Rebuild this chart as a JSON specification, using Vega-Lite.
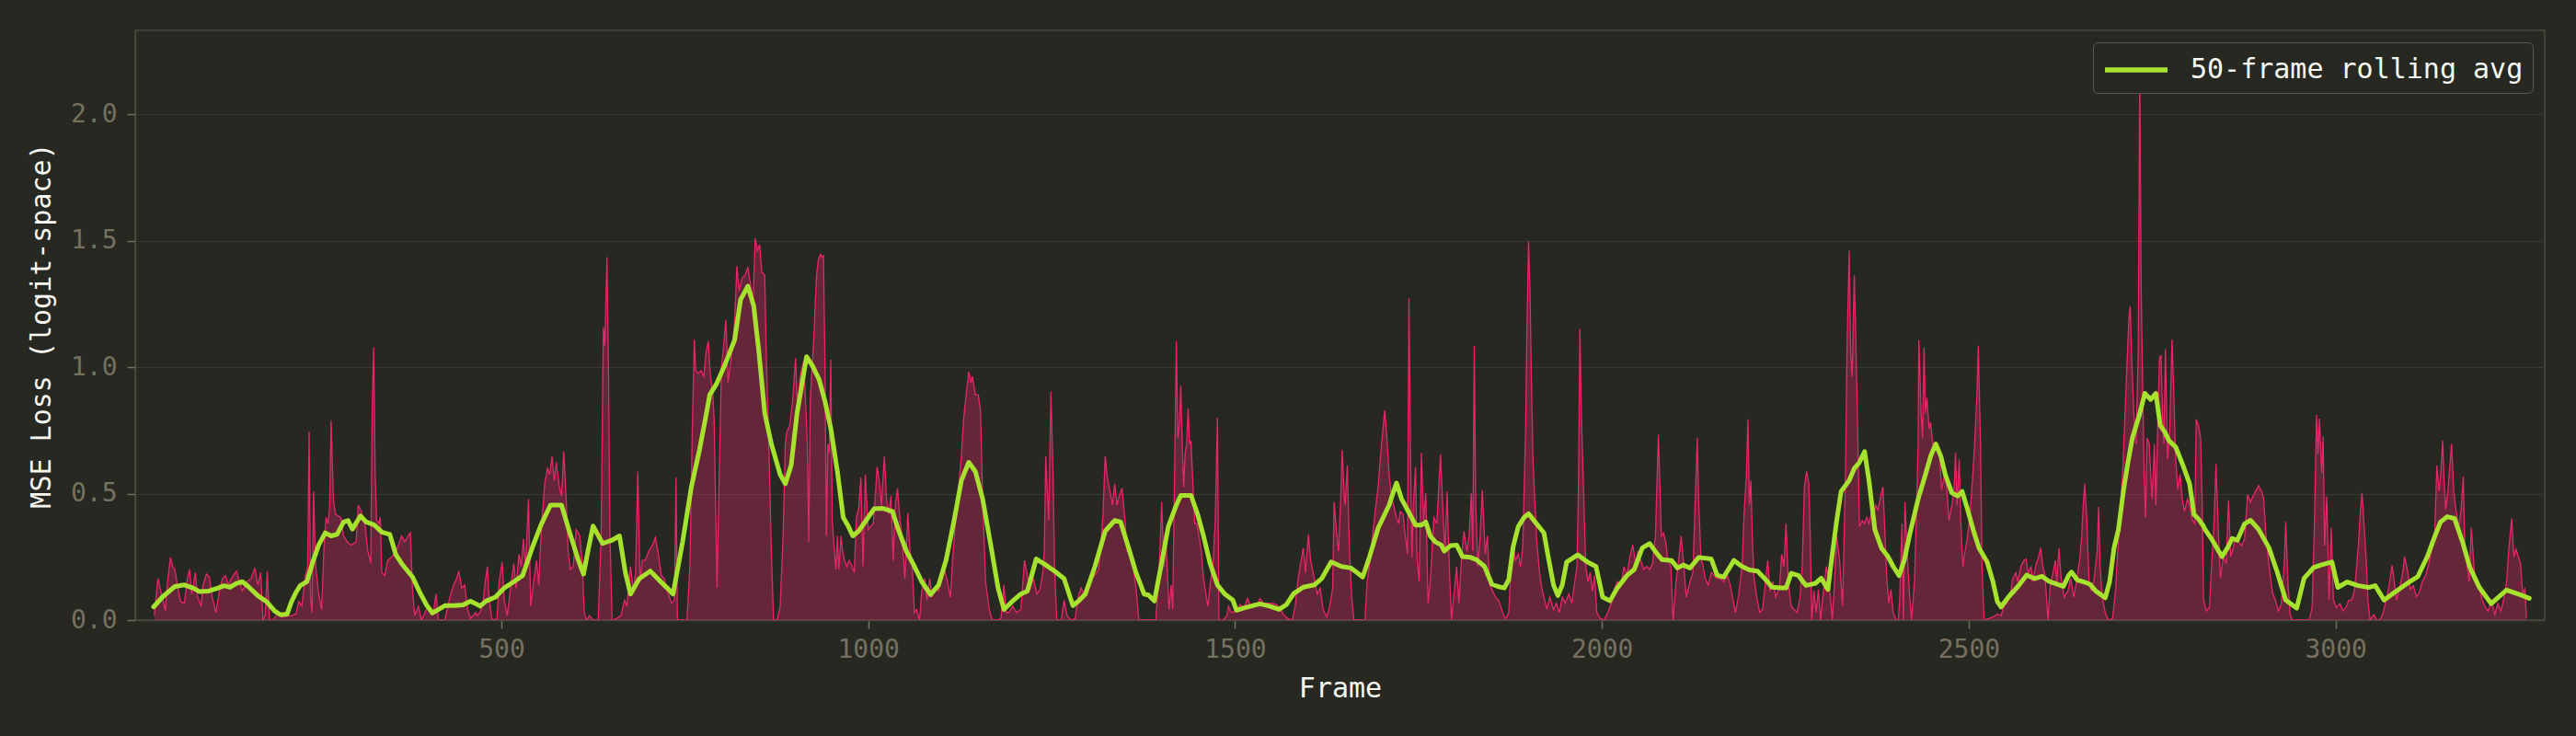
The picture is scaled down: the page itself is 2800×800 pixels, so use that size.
{
"$schema":"https://vega.github.io/schema/vega-lite/v6.json",
"width":2619,"height":641,
"autosize":{"type":"none"},
"padding":{"left":147,"top":33,"right":34,"bottom":126},
"background":"#272822",
"config":{
 "view":{"stroke":"#49483E","strokeWidth":1.5,"fill":"#272822"},
 "font":"DejaVu Sans Mono",
 "axis":{"labelFont":"DejaVu Sans Mono","titleFont":"DejaVu Sans Mono","labelColor":"#75715E","labelFontSize":28,"titleColor":"#F8F8F2","titleFontSize":30,"titleFontWeight":"normal","tickColor":"#75715E","tickSize":9,"tickWidth":1.5,"domainColor":"#49483E","domainWidth":1.5,"gridColor":"#3B3A32","gridWidth":1.2}
},
"datasets":{
"raw":[
{"frame":27,"loss":0.02},{"frame":32,"loss":0.164},{"frame":34,"loss":0.139},{"frame":38,"loss":0.091},{"frame":42,"loss":0.036},{"frame":45,"loss":0.152},{"frame":49,"loss":0.248},{"frame":52,"loss":0.212},{"frame":55,"loss":0.2},{"frame":59,"loss":0.127},{"frame":63,"loss":0.073},{"frame":68,"loss":0.067},{"frame":72,"loss":0.164},{"frame":75,"loss":0.2},{"frame":78,"loss":0.103},{"frame":83,"loss":0.188},{"frame":86,"loss":0.091},{"frame":91,"loss":0.055},{"frame":93,"loss":0.133},{"frame":98,"loss":0.182},{"frame":102,"loss":0.17},{"frame":106,"loss":0.091},{"frame":111,"loss":0.03},{"frame":116,"loss":0.121},{"frame":120,"loss":0.164},{"frame":124,"loss":0.176},{"frame":128,"loss":0.139},{"frame":132,"loss":0.164},{"frame":139,"loss":0.194},{"frame":143,"loss":0.152},{"frame":147,"loss":0.115},{"frame":153,"loss":0.152},{"frame":159,"loss":0.164},{"frame":164,"loss":0.206},{"frame":168,"loss":0.139},{"frame":172,"loss":0.188},{"frame":175,"loss":0.0},{"frame":178,"loss":0.018},{"frame":181,"loss":0.194},{"frame":184,"loss":0.0},{"frame":189,"loss":0.0},{"frame":193,"loss":0.018},{"frame":197,"loss":0.03},{"frame":201,"loss":0.012},{"frame":208,"loss":0.016},{"frame":214,"loss":0.018},{"frame":220,"loss":0.024},{"frame":224,"loss":0.073},{"frame":228,"loss":0.055},{"frame":233,"loss":0.176},{"frame":236,"loss":0.212},{"frame":238,"loss":0.745},{"frame":240,"loss":0.091},{"frame":242,"loss":0.03},{"frame":244,"loss":0.509},{"frame":247,"loss":0.212},{"frame":251,"loss":0.103},{"frame":255,"loss":0.042},{"frame":258,"loss":0.273},{"frame":261,"loss":0.406},{"frame":264,"loss":0.382},{"frame":266,"loss":0.455},{"frame":268,"loss":0.79},{"frame":271,"loss":0.479},{"frame":274,"loss":0.418},{"frame":281,"loss":0.406},{"frame":285,"loss":0.333},{"frame":290,"loss":0.309},{"frame":295,"loss":0.297},{"frame":302,"loss":0.309},{"frame":305,"loss":0.455},{"frame":309,"loss":0.43},{"frame":314,"loss":0.382},{"frame":318,"loss":0.273},{"frame":322,"loss":0.224},{"frame":324,"loss":0.85},{"frame":326,"loss":1.079},{"frame":328,"loss":0.576},{"frame":330,"loss":0.394},{"frame":333,"loss":0.382},{"frame":335,"loss":0.406},{"frame":337,"loss":0.188},{"frame":341,"loss":0.176},{"frame":345,"loss":0.236},{"frame":350,"loss":0.248},{"frame":354,"loss":0.261},{"frame":360,"loss":0.297},{"frame":364,"loss":0.333},{"frame":368,"loss":0.309},{"frame":373,"loss":0.333},{"frame":376,"loss":0.345},{"frame":379,"loss":0.115},{"frame":382,"loss":0.018},{"frame":387,"loss":0.055},{"frame":391,"loss":0.0},{"frame":396,"loss":0.03},{"frame":400,"loss":0.055},{"frame":404,"loss":0.024},{"frame":408,"loss":0.042},{"frame":411,"loss":0.103},{"frame":414,"loss":0.0},{"frame":423,"loss":0.0},{"frame":427,"loss":0.055},{"frame":431,"loss":0.103},{"frame":435,"loss":0.139},{"frame":439,"loss":0.164},{"frame":442,"loss":0.194},{"frame":446,"loss":0.127},{"frame":450,"loss":0.139},{"frame":454,"loss":0.042},{"frame":458,"loss":0.006},{"frame":465,"loss":0.03},
{"frame":467,"loss":0.018},{"frame":471,"loss":0.03},{"frame":475,"loss":0.067},{"frame":478,"loss":0.152},{"frame":481,"loss":0.212},{"frame":483,"loss":0.091},{"frame":487,"loss":0.006},{"frame":490,"loss":0.0},{"frame":494,"loss":0.006},{"frame":497,"loss":0.152},{"frame":501,"loss":0.23},{"frame":504,"loss":0.079},{"frame":508,"loss":0.018},{"frame":512,"loss":0.115},{"frame":517,"loss":0.224},{"frame":520,"loss":0.127},{"frame":524,"loss":0.261},{"frame":527,"loss":0.212},{"frame":530,"loss":0.321},{"frame":533,"loss":0.212},{"frame":537,"loss":0.479},{"frame":540,"loss":0.055},{"frame":544,"loss":0.152},{"frame":548,"loss":0.236},{"frame":551,"loss":0.139},{"frame":554,"loss":0.333},{"frame":559,"loss":0.539},{"frame":563,"loss":0.6},{"frame":566,"loss":0.576},{"frame":569,"loss":0.648},{"frame":572,"loss":0.552},{"frame":575,"loss":0.624},{"frame":579,"loss":0.527},{"frame":582,"loss":0.491},{"frame":585,"loss":0.667},{"frame":588,"loss":0.503},{"frame":591,"loss":0.273},{"frame":594,"loss":0.2},{"frame":598,"loss":0.212},{"frame":602,"loss":0.358},{"frame":607,"loss":0.333},{"frame":610,"loss":0.236},{"frame":613,"loss":0.03},{"frame":616,"loss":0.0},{"frame":620,"loss":0.018},{"frame":625,"loss":0.0},{"frame":632,"loss":0.0},{"frame":636,"loss":0.333},{"frame":639,"loss":1.158},{"frame":641,"loss":1.085},{"frame":644,"loss":1.436},{"frame":646,"loss":1.0},{"frame":648,"loss":0.333},{"frame":651,"loss":0.0},{"frame":657,"loss":0.006},{"frame":663,"loss":0.018},{"frame":668,"loss":0.079},{"frame":671,"loss":0.055},{"frame":676,"loss":0.212},{"frame":680,"loss":0.115},{"frame":683,"loss":0.188},{"frame":686,"loss":0.588},{"frame":689,"loss":0.152},{"frame":692,"loss":0.236},{"frame":696,"loss":0.236},{"frame":701,"loss":0.273},{"frame":706,"loss":0.297},{"frame":710,"loss":0.327},{"frame":714,"loss":0.261},{"frame":718,"loss":0.176},{"frame":722,"loss":0.164},{"frame":726,"loss":0.115},{"frame":732,"loss":0.067},{"frame":736,"loss":0.079},{"frame":738,"loss":0.564},{"frame":740,"loss":0.0},{"frame":747,"loss":0.0},{"frame":753,"loss":0.0},{"frame":757,"loss":0.212},{"frame":760,"loss":0.721},{"frame":763,"loss":1.109},{"frame":765,"loss":0.988},{"frame":768,"loss":0.976},{"frame":772,"loss":0.988},{"frame":776,"loss":0.964},{"frame":779,"loss":1.061},{"frame":782,"loss":1.103},{"frame":785,"loss":0.964},{"frame":788,"loss":0.903},{"frame":790,"loss":0.794},{"frame":794,"loss":0.127},{"frame":797,"loss":0.576},{"frame":800,"loss":1.0},{"frame":803,"loss":1.085},{"frame":806,"loss":1.188},{"frame":809,"loss":0.939},{"frame":813,"loss":1.036},{"frame":818,"loss":1.182},{"frame":821,"loss":1.4},{"frame":824,"loss":1.303},{"frame":828,"loss":1.352},{"frame":832,"loss":1.364},{"frame":836,"loss":1.394},{"frame":841,"loss":1.303},{"frame":843,"loss":1.255},{"frame":846,"loss":1.509},{"frame":849,"loss":1.461},{"frame":852,"loss":1.485},{"frame":855,"loss":1.376},{"frame":859,"loss":1.364},{"frame":861,"loss":1.061},{"frame":864,"loss":0.758},{"frame":868,"loss":0.273},{"frame":871,"loss":0.0},{"frame":876,"loss":0.0},{"frame":880,"loss":0.055},{"frame":884,"loss":0.333},{"frame":887,"loss":0.697},{"frame":889,"loss":0.745},{"frame":893,"loss":0.77},{"frame":897,"loss":0.867},{"frame":901,"loss":1.036},{"frame":904,"loss":0.818},{"frame":907,"loss":0.964},{"frame":912,"loss":1.024},{"frame":915,"loss":0.842},{"frame":917,"loss":0.697},{"frame":919,"loss":0.309},{"frame":921,"loss":0.867},{"frame":924,"loss":1.024},{"frame":926,"loss":1.121},{"frame":928,"loss":1.267},{"frame":930,"loss":1.376},{"frame":932,"loss":1.424},{"frame":935,"loss":1.448},
{"frame":937,"loss":1.436},{"frame":939,"loss":1.442},{"frame":941,"loss":1.036},{"frame":943,"loss":0.333},{"frame":945,"loss":0.697},{"frame":947,"loss":0.661},{"frame":949,"loss":1.03},{"frame":951,"loss":0.394},{"frame":954,"loss":0.273},{"frame":956,"loss":0.2},{"frame":958,"loss":0.333},{"frame":960,"loss":0.2},{"frame":963,"loss":0.333},{"frame":965,"loss":0.273},{"frame":968,"loss":0.236},{"frame":971,"loss":0.212},{"frame":974,"loss":0.236},{"frame":978,"loss":0.212},{"frame":981,"loss":0.188},{"frame":984,"loss":0.406},{"frame":987,"loss":0.442},{"frame":990,"loss":0.564},{"frame":993,"loss":0.212},{"frame":996,"loss":0.576},{"frame":1000,"loss":0.358},{"frame":1003,"loss":0.37},{"frame":1007,"loss":0.382},{"frame":1010,"loss":0.503},{"frame":1012,"loss":0.606},{"frame":1015,"loss":0.552},{"frame":1018,"loss":0.455},{"frame":1022,"loss":0.648},{"frame":1025,"loss":0.479},{"frame":1028,"loss":0.418},{"frame":1031,"loss":0.491},{"frame":1034,"loss":0.236},{"frame":1037,"loss":0.455},{"frame":1040,"loss":0.521},{"frame":1043,"loss":0.406},{"frame":1046,"loss":0.333},{"frame":1050,"loss":0.164},{"frame":1054,"loss":0.424},{"frame":1057,"loss":0.273},{"frame":1060,"loss":0.212},{"frame":1063,"loss":0.03},{"frame":1066,"loss":0.042},{"frame":1070,"loss":0.0},{"frame":1073,"loss":0.115},{"frame":1077,"loss":0.164},{"frame":1080,"loss":0.079},{"frame":1084,"loss":0.164},{"frame":1087,"loss":0.091},{"frame":1091,"loss":0.127},{"frame":1096,"loss":0.115},{"frame":1100,"loss":0.176},{"frame":1104,"loss":0.2},{"frame":1108,"loss":0.152},{"frame":1112,"loss":0.091},{"frame":1115,"loss":0.236},{"frame":1119,"loss":0.394},{"frame":1123,"loss":0.515},{"frame":1127,"loss":0.648},{"frame":1130,"loss":0.794},{"frame":1133,"loss":0.879},{"frame":1137,"loss":0.982},{"frame":1140,"loss":0.939},{"frame":1142,"loss":0.964},{"frame":1146,"loss":0.891},{"frame":1150,"loss":0.891},{"frame":1153,"loss":0.83},{"frame":1156,"loss":0.479},{"frame":1160,"loss":0.152},{"frame":1165,"loss":0.042},{"frame":1169,"loss":0.0},{"frame":1175,"loss":0.0},{"frame":1181,"loss":0.006},{"frame":1185,"loss":0.139},{"frame":1188,"loss":0.03},{"frame":1192,"loss":0.03},{"frame":1197,"loss":0.055},{"frame":1202,"loss":0.03},{"frame":1208,"loss":0.042},{"frame":1213,"loss":0.236},{"frame":1217,"loss":0.176},{"frame":1221,"loss":0.127},{"frame":1225,"loss":0.164},{"frame":1230,"loss":0.103},{"frame":1234,"loss":0.121},{"frame":1238,"loss":0.188},{"frame":1240,"loss":0.273},{"frame":1242,"loss":0.648},{"frame":1244,"loss":0.515},{"frame":1246,"loss":0.394},{"frame":1249,"loss":0.903},{"frame":1252,"loss":0.576},{"frame":1254,"loss":0.212},{"frame":1257,"loss":0.0},{"frame":1263,"loss":0.0},{"frame":1267,"loss":0.079},{"frame":1271,"loss":0.018},{"frame":1276,"loss":0.0},{"frame":1282,"loss":0.006},{"frame":1286,"loss":0.091},{"frame":1290,"loss":0.127},{"frame":1294,"loss":0.103},{"frame":1298,"loss":0.139},{"frame":1302,"loss":0.164},{"frame":1307,"loss":0.17},{"frame":1311,"loss":0.188},{"frame":1314,"loss":0.2},{"frame":1317,"loss":0.297},{"frame":1320,"loss":0.418},{"frame":1323,"loss":0.648},{"frame":1326,"loss":0.564},{"frame":1330,"loss":0.503},{"frame":1333,"loss":0.455},{"frame":1336,"loss":0.539},{"frame":1339,"loss":0.455},{"frame":1342,"loss":0.491},{"frame":1346,"loss":0.521},{"frame":1350,"loss":0.394},{"frame":1353,"loss":0.273},{"frame":1357,"loss":0.273},{"frame":1361,"loss":0.212},{"frame":1365,"loss":0.127},{"frame":1369,"loss":0.0},{"frame":1376,"loss":0.0},{"frame":1382,"loss":0.0},{"frame":1388,"loss":0.0},{"frame":1392,"loss":0.0},{"frame":1394,"loss":0.091},{"frame":1397,"loss":0.236},{"frame":1400,"loss":0.467},{"frame":1403,"loss":0.212},{"frame":1406,"loss":0.309},
{"frame":1410,"loss":0.042},{"frame":1413,"loss":0.139},{"frame":1415,"loss":0.042},{"frame":1417,"loss":0.455},{"frame":1420,"loss":1.103},{"frame":1422,"loss":0.721},{"frame":1424,"loss":0.77},{"frame":1426,"loss":0.927},{"frame":1428,"loss":0.697},{"frame":1430,"loss":0.527},{"frame":1432,"loss":0.661},{"frame":1434,"loss":0.697},{"frame":1436,"loss":0.836},{"frame":1438,"loss":0.697},{"frame":1440,"loss":0.709},{"frame":1443,"loss":0.515},{"frame":1445,"loss":0.382},{"frame":1448,"loss":0.382},{"frame":1451,"loss":0.333},{"frame":1454,"loss":0.273},{"frame":1457,"loss":0.164},{"frame":1461,"loss":0.091},{"frame":1463,"loss":0.055},{"frame":1466,"loss":0.139},{"frame":1470,"loss":0.224},{"frame":1473,"loss":0.394},{"frame":1476,"loss":0.8},{"frame":1478,"loss":0.0},{"frame":1484,"loss":0.0},{"frame":1489,"loss":0.018},{"frame":1491,"loss":0.055},{"frame":1495,"loss":0.03},{"frame":1501,"loss":0.036},{"frame":1507,"loss":0.061},{"frame":1512,"loss":0.048},{"frame":1517,"loss":0.085},{"frame":1521,"loss":0.055},{"frame":1526,"loss":0.067},{"frame":1530,"loss":0.061},{"frame":1534,"loss":0.085},{"frame":1539,"loss":0.067},{"frame":1545,"loss":0.067},{"frame":1551,"loss":0.067},{"frame":1557,"loss":0.061},{"frame":1562,"loss":0.042},{"frame":1567,"loss":0.018},{"frame":1572,"loss":0.006},{"frame":1578,"loss":0.0},{"frame":1582,"loss":0.055},{"frame":1586,"loss":0.164},{"frame":1590,"loss":0.236},{"frame":1593,"loss":0.285},{"frame":1596,"loss":0.188},{"frame":1600,"loss":0.339},{"frame":1603,"loss":0.236},{"frame":1608,"loss":0.164},{"frame":1612,"loss":0.103},{"frame":1616,"loss":0.127},{"frame":1620,"loss":0.042},{"frame":1625,"loss":0.012},{"frame":1629,"loss":0.055},{"frame":1633,"loss":0.127},{"frame":1635,"loss":0.467},{"frame":1638,"loss":0.358},{"frame":1641,"loss":0.273},{"frame":1644,"loss":0.479},{"frame":1646,"loss":0.673},{"frame":1649,"loss":0.479},{"frame":1650,"loss":0.455},{"frame":1653,"loss":0.612},{"frame":1656,"loss":0.273},{"frame":1659,"loss":0.091},{"frame":1662,"loss":0.0},{"frame":1670,"loss":0.0},{"frame":1677,"loss":0.0},{"frame":1680,"loss":0.152},{"frame":1683,"loss":0.212},{"frame":1687,"loss":0.321},{"frame":1691,"loss":0.43},{"frame":1695,"loss":0.527},{"frame":1699,"loss":0.673},{"frame":1702,"loss":0.77},{"frame":1704,"loss":0.83},{"frame":1707,"loss":0.721},{"frame":1710,"loss":0.576},{"frame":1713,"loss":0.491},{"frame":1716,"loss":0.455},{"frame":1720,"loss":0.406},{"frame":1723,"loss":0.382},{"frame":1725,"loss":0.43},{"frame":1729,"loss":0.418},{"frame":1732,"loss":0.333},{"frame":1735,"loss":0.261},{"frame":1737,"loss":1.273},{"frame":1739,"loss":0.697},{"frame":1741,"loss":0.248},{"frame":1743,"loss":0.455},{"frame":1746,"loss":0.606},{"frame":1748,"loss":0.248},{"frame":1751,"loss":0.152},{"frame":1754,"loss":0.661},{"frame":1757,"loss":0.394},{"frame":1760,"loss":0.503},{"frame":1763,"loss":0.067},{"frame":1766,"loss":0.152},{"frame":1771,"loss":0.406},{"frame":1775,"loss":0.382},{"frame":1777,"loss":0.491},{"frame":1780,"loss":0.655},{"frame":1783,"loss":0.455},{"frame":1786,"loss":0.273},{"frame":1789,"loss":0.509},{"frame":1792,"loss":0.212},{"frame":1795,"loss":0.0},{"frame":1798,"loss":0.091},{"frame":1802,"loss":0.212},{"frame":1805,"loss":0.067},{"frame":1809,"loss":0.261},{"frame":1812,"loss":0.352},{"frame":1816,"loss":0.273},{"frame":1819,"loss":0.333},{"frame":1822,"loss":0.503},{"frame":1824,"loss":0.273},{"frame":1826,"loss":1.085},{"frame":1828,"loss":0.455},{"frame":1831,"loss":0.212},{"frame":1834,"loss":0.333},{"frame":1837,"loss":0.515},{"frame":1841,"loss":0.261},{"frame":1844,"loss":0.333},{"frame":1847,"loss":0.139},{"frame":1851,"loss":0.115},{"frame":1855,"loss":0.091},{"frame":1859,"loss":0.079},{"frame":1862,"loss":0.055},{"frame":1866,"loss":0.018},{"frame":1869,"loss":0.006},{"frame":1873,"loss":0.03},{"frame":1876,"loss":0.2},{"frame":1879,"loss":0.3},
{"frame":1882,"loss":0.236},{"frame":1886,"loss":0.261},{"frame":1889,"loss":0.212},{"frame":1892,"loss":0.285},{"frame":1894,"loss":0.515},{"frame":1896,"loss":0.758},{"frame":1898,"loss":1.182},{"frame":1900,"loss":1.497},{"frame":1902,"loss":1.303},{"frame":1904,"loss":0.939},{"frame":1906,"loss":0.636},{"frame":1909,"loss":0.455},{"frame":1911,"loss":0.321},{"frame":1915,"loss":0.188},{"frame":1918,"loss":0.127},{"frame":1921,"loss":0.091},{"frame":1925,"loss":0.042},{"frame":1929,"loss":0.091},{"frame":1934,"loss":0.042},{"frame":1938,"loss":0.067},{"frame":1942,"loss":0.03},{"frame":1946,"loss":0.091},{"frame":1950,"loss":0.067},{"frame":1955,"loss":0.103},{"frame":1959,"loss":0.067},{"frame":1963,"loss":0.152},{"frame":1966,"loss":0.212},{"frame":1968,"loss":0.515},{"frame":1970,"loss":1.152},{"frame":1972,"loss":0.818},{"frame":1975,"loss":0.515},{"frame":1978,"loss":0.212},{"frame":1981,"loss":0.152},{"frame":1984,"loss":0.188},{"frame":1987,"loss":0.115},{"frame":1990,"loss":0.176},{"frame":1993,"loss":0.03},{"frame":1998,"loss":0.006},{"frame":2003,"loss":0.0},{"frame":2008,"loss":0.03},{"frame":2013,"loss":0.067},{"frame":2017,"loss":0.121},{"frame":2021,"loss":0.152},{"frame":2026,"loss":0.139},{"frame":2030,"loss":0.212},{"frame":2034,"loss":0.176},{"frame":2038,"loss":0.248},{"frame":2042,"loss":0.297},{"frame":2046,"loss":0.224},{"frame":2049,"loss":0.273},{"frame":2053,"loss":0.236},{"frame":2057,"loss":0.2},{"frame":2061,"loss":0.212},{"frame":2065,"loss":0.2},{"frame":2069,"loss":0.224},{"frame":2073,"loss":0.333},{"frame":2075,"loss":0.539},{"frame":2077,"loss":0.733},{"frame":2079,"loss":0.539},{"frame":2081,"loss":0.333},{"frame":2084,"loss":0.345},{"frame":2087,"loss":0.309},{"frame":2090,"loss":0.236},{"frame":2094,"loss":0.212},{"frame":2097,"loss":0.0},{"frame":2101,"loss":0.152},{"frame":2105,"loss":0.248},{"frame":2108,"loss":0.333},{"frame":2111,"loss":0.236},{"frame":2115,"loss":0.091},{"frame":2118,"loss":0.127},{"frame":2120,"loss":0.152},{"frame":2124,"loss":0.188},{"frame":2127,"loss":0.455},{"frame":2130,"loss":0.721},{"frame":2132,"loss":0.455},{"frame":2135,"loss":0.248},{"frame":2138,"loss":0.212},{"frame":2141,"loss":0.164},{"frame":2145,"loss":0.139},{"frame":2149,"loss":0.188},{"frame":2153,"loss":0.176},{"frame":2157,"loss":0.164},{"frame":2161,"loss":0.164},{"frame":2166,"loss":0.152},{"frame":2171,"loss":0.176},{"frame":2175,"loss":0.139},{"frame":2178,"loss":0.091},{"frame":2182,"loss":0.03},{"frame":2186,"loss":0.091},{"frame":2191,"loss":0.212},{"frame":2194,"loss":0.43},{"frame":2197,"loss":0.576},{"frame":2199,"loss":0.794},{"frame":2201,"loss":0.455},{"frame":2203,"loss":0.552},{"frame":2205,"loss":0.333},{"frame":2207,"loss":0.176},{"frame":2211,"loss":0.091},{"frame":2215,"loss":0.03},{"frame":2219,"loss":0.042},{"frame":2223,"loss":0.152},{"frame":2226,"loss":0.236},{"frame":2229,"loss":0.115},{"frame":2233,"loss":0.152},{"frame":2237,"loss":0.091},{"frame":2242,"loss":0.127},{"frame":2245,"loss":0.261},{"frame":2248,"loss":0.212},{"frame":2251,"loss":0.382},{"frame":2254,"loss":0.152},{"frame":2258,"loss":0.055},{"frame":2262,"loss":0.042},{"frame":2266,"loss":0.03},{"frame":2270,"loss":0.091},{"frame":2273,"loss":0.212},{"frame":2276,"loss":0.527},{"frame":2279,"loss":0.588},{"frame":2282,"loss":0.539},{"frame":2284,"loss":0.333},{"frame":2286,"loss":0.0},{"frame":2289,"loss":0.115},{"frame":2292,"loss":0.03},{"frame":2295,"loss":0.121},{"frame":2298,"loss":0.0},{"frame":2301,"loss":0.091},{"frame":2306,"loss":0.212},{"frame":2310,"loss":0.139},{"frame":2314,"loss":0.0},{"frame":2317,"loss":0.152},{"frame":2320,"loss":0.333},{"frame":2324,"loss":0.236},{"frame":2326,"loss":0.139},{"frame":2328,"loss":0.055},{"frame":2332,"loss":0.576},{"frame":2334,"loss":1.061},{"frame":2337,"loss":1.461},{"frame":2339,"loss":1.061},{"frame":2341,"loss":0.964},{"frame":2344,"loss":1.364},{"frame":2346,"loss":1.121},{"frame":2349,"loss":0.697},
{"frame":2351,"loss":0.37},{"frame":2355,"loss":0.394},{"frame":2358,"loss":0.382},{"frame":2361,"loss":0.406},{"frame":2364,"loss":0.382},{"frame":2367,"loss":0.418},{"frame":2370,"loss":0.4},{"frame":2373,"loss":0.455},{"frame":2376,"loss":0.436},{"frame":2380,"loss":0.491},{"frame":2383,"loss":0.527},{"frame":2386,"loss":0.333},{"frame":2388,"loss":0.176},{"frame":2391,"loss":0.067},{"frame":2394,"loss":0.121},{"frame":2397,"loss":0.03},{"frame":2401,"loss":0.0},{"frame":2404,"loss":0.0},{"frame":2406,"loss":0.091},{"frame":2409,"loss":0.382},{"frame":2411,"loss":0.0},{"frame":2413,"loss":0.467},{"frame":2416,"loss":0.273},{"frame":2419,"loss":0.115},{"frame":2422,"loss":0.0},{"frame":2426,"loss":0.152},{"frame":2429,"loss":0.455},{"frame":2431,"loss":0.697},{"frame":2432,"loss":1.109},{"frame":2435,"loss":0.818},{"frame":2437,"loss":0.721},{"frame":2439,"loss":1.079},{"frame":2441,"loss":0.818},{"frame":2443,"loss":0.879},{"frame":2446,"loss":0.758},{"frame":2448,"loss":0.782},{"frame":2451,"loss":0.697},{"frame":2454,"loss":0.673},{"frame":2457,"loss":0.697},{"frame":2460,"loss":0.673},{"frame":2463,"loss":0.515},{"frame":2467,"loss":0.576},{"frame":2470,"loss":0.527},{"frame":2473,"loss":0.394},{"frame":2477,"loss":0.455},{"frame":2480,"loss":0.515},{"frame":2482,"loss":0.661},{"frame":2484,"loss":0.455},{"frame":2487,"loss":0.636},{"frame":2489,"loss":0.394},{"frame":2492,"loss":0.212},{"frame":2495,"loss":0.273},{"frame":2498,"loss":0.321},{"frame":2502,"loss":0.43},{"frame":2505,"loss":0.552},{"frame":2508,"loss":0.697},{"frame":2511,"loss":0.879},{"frame":2513,"loss":1.085},{"frame":2516,"loss":0.697},{"frame":2518,"loss":0.212},{"frame":2521,"loss":0.0},{"frame":2527,"loss":0.006},{"frame":2533,"loss":0.012},{"frame":2539,"loss":0.024},{"frame":2544,"loss":0.018},{"frame":2548,"loss":0.055},{"frame":2552,"loss":0.067},{"frame":2556,"loss":0.091},{"frame":2560,"loss":0.164},{"frame":2564,"loss":0.188},{"frame":2567,"loss":0.152},{"frame":2571,"loss":0.212},{"frame":2575,"loss":0.236},{"frame":2578,"loss":0.242},{"frame":2581,"loss":0.188},{"frame":2585,"loss":0.212},{"frame":2587,"loss":0.152},{"frame":2592,"loss":0.224},{"frame":2595,"loss":0.248},{"frame":2598,"loss":0.285},{"frame":2601,"loss":0.212},{"frame":2604,"loss":0.176},{"frame":2608,"loss":0.0},{"frame":2611,"loss":0.139},{"frame":2615,"loss":0.188},{"frame":2618,"loss":0.236},{"frame":2620,"loss":0.152},{"frame":2623,"loss":0.285},{"frame":2626,"loss":0.164},{"frame":2630,"loss":0.091},{"frame":2635,"loss":0.115},{"frame":2639,"loss":0.164},{"frame":2643,"loss":0.091},{"frame":2647,"loss":0.152},{"frame":2651,"loss":0.236},{"frame":2654,"loss":0.333},{"frame":2656,"loss":0.455},{"frame":2658,"loss":0.539},{"frame":2661,"loss":0.394},{"frame":2664,"loss":0.152},{"frame":2667,"loss":0.115},{"frame":2671,"loss":0.164},{"frame":2675,"loss":0.273},{"frame":2677,"loss":0.448},{"frame":2679,"loss":0.212},{"frame":2682,"loss":0.091},{"frame":2686,"loss":0.03},{"frame":2690,"loss":0.0},{"frame":2696,"loss":0.006},{"frame":2700,"loss":0.115},{"frame":2703,"loss":0.273},{"frame":2707,"loss":0.455},{"frame":2710,"loss":0.6},{"frame":2713,"loss":0.818},{"frame":2716,"loss":1.036},{"frame":2718,"loss":1.182},{"frame":2720,"loss":1.242},{"frame":2722,"loss":1.036},{"frame":2725,"loss":0.818},{"frame":2728,"loss":0.697},{"frame":2731,"loss":1.061},{"frame":2733,"loss":2.17},{"frame":2735,"loss":1.303},{"frame":2737,"loss":0.939},{"frame":2739,"loss":0.576},{"frame":2741,"loss":0.406},{"frame":2743,"loss":0.721},{"frame":2746,"loss":0.697},{"frame":2748,"loss":0.576},{"frame":2750,"loss":0.479},{"frame":2753,"loss":0.697},{"frame":2755,"loss":0.455},{"frame":2758,"loss":0.818},{"frame":2760,"loss":1.036},{"frame":2762,"loss":1.048},{"frame":2764,"loss":0.818},{"frame":2766,"loss":0.697},{"frame":2768,"loss":1.073},{"frame":2771,"loss":0.636},{"frame":2774,"loss":0.758},{"frame":2777,"loss":1.109},{"frame":2779,"loss":0.939},{"frame":2782,"loss":0.636},{"frame":2785,"loss":0.515},{"frame":2788,"loss":0.576},{"frame":2791,"loss":0.479},{"frame":2794,"loss":0.43},{"frame":2798,"loss":0.479},{"frame":2801,"loss":0.455},{"frame":2805,"loss":0.394},{"frame":2808,"loss":0.382},{"frame":2810,"loss":0.794},{"frame":2813,"loss":0.77},{"frame":2816,"loss":0.721},
{"frame":2818,"loss":0.481},{"frame":2820,"loss":0.079},{"frame":2824,"loss":0.036},{"frame":2828,"loss":0.05},{"frame":2831,"loss":0.223},{"frame":2834,"loss":0.366},{"frame":2837,"loss":0.618},{"frame":2840,"loss":0.366},{"frame":2843,"loss":0.165},{"frame":2847,"loss":0.251},{"frame":2851,"loss":0.223},{"frame":2854,"loss":0.474},{"frame":2857,"loss":0.251},{"frame":2860,"loss":0.28},{"frame":2863,"loss":0.323},{"frame":2868,"loss":0.309},{"frame":2872,"loss":0.295},{"frame":2876,"loss":0.323},{"frame":2880,"loss":0.496},{"frame":2884,"loss":0.467},{"frame":2886,"loss":0.481},{"frame":2891,"loss":0.51},{"frame":2895,"loss":0.532},{"frame":2899,"loss":0.51},{"frame":2902,"loss":0.481},{"frame":2905,"loss":0.338},{"frame":2909,"loss":0.223},{"frame":2914,"loss":0.108},{"frame":2918,"loss":0.079},{"frame":2922,"loss":0.036},{"frame":2926,"loss":0.065},{"frame":2930,"loss":0.223},{"frame":2932,"loss":0.388},{"frame":2935,"loss":0.151},{"frame":2938,"loss":0.022},{"frame":2941,"loss":0.0},{"frame":2947,"loss":0.0},{"frame":2953,"loss":0.0},{"frame":2960,"loss":0.0},{"frame":2964,"loss":0.0},{"frame":2968,"loss":0.05},{"frame":2971,"loss":0.366},{"frame":2974,"loss":0.812},{"frame":2976,"loss":0.654},{"frame":2978,"loss":0.797},{"frame":2981,"loss":0.582},{"frame":2983,"loss":0.726},{"frame":2985,"loss":0.295},{"frame":2988,"loss":0.489},{"frame":2991,"loss":0.079},{"frame":2994,"loss":0.366},{"frame":2997,"loss":0.079},{"frame":3001,"loss":0.05},{"frame":3006,"loss":0.065},{"frame":3010,"loss":0.036},{"frame":3014,"loss":0.05},{"frame":3018,"loss":0.079},{"frame":3022,"loss":0.079},{"frame":3026,"loss":0.122},{"frame":3031,"loss":0.295},{"frame":3034,"loss":0.438},{"frame":3036,"loss":0.503},{"frame":3039,"loss":0.366},{"frame":3042,"loss":0.223},{"frame":3044,"loss":0.079},{"frame":3047,"loss":0.0},{"frame":3052,"loss":0.022},{"frame":3056,"loss":0.0},{"frame":3060,"loss":0.0},{"frame":3064,"loss":0.022},{"frame":3069,"loss":0.079},{"frame":3072,"loss":0.122},{"frame":3077,"loss":0.216},{"frame":3080,"loss":0.151},{"frame":3083,"loss":0.079},{"frame":3087,"loss":0.122},{"frame":3091,"loss":0.18},{"frame":3094,"loss":0.251},{"frame":3098,"loss":0.194},{"frame":3102,"loss":0.122},{"frame":3106,"loss":0.136},{"frame":3110,"loss":0.093},{"frame":3114,"loss":0.108},{"frame":3118,"loss":0.151},{"frame":3123,"loss":0.18},{"frame":3127,"loss":0.223},{"frame":3131,"loss":0.28},{"frame":3135,"loss":0.338},{"frame":3138,"loss":0.611},{"frame":3141,"loss":0.51},{"frame":3143,"loss":0.568},{"frame":3146,"loss":0.711},{"frame":3148,"loss":0.539},{"frame":3150,"loss":0.438},{"frame":3153,"loss":0.51},{"frame":3155,"loss":0.582},{"frame":3158,"loss":0.697},{"frame":3161,"loss":0.51},{"frame":3164,"loss":0.438},{"frame":3168,"loss":0.366},{"frame":3171,"loss":0.438},{"frame":3174,"loss":0.568},{"frame":3176,"loss":0.295},{"frame":3179,"loss":0.223},{"frame":3182,"loss":0.151},{"frame":3185,"loss":0.366},{"frame":3189,"loss":0.194},{"frame":3192,"loss":0.151},{"frame":3196,"loss":0.122},{"frame":3200,"loss":0.079},{"frame":3204,"loss":0.05},{"frame":3208,"loss":0.036},{"frame":3212,"loss":0.079},{"frame":3217,"loss":0.022},{"frame":3221,"loss":0.065},{"frame":3225,"loss":0.036},{"frame":3229,"loss":0.079},{"frame":3233,"loss":0.151},{"frame":3236,"loss":0.28},{"frame":3240,"loss":0.402},{"frame":3243,"loss":0.251},{"frame":3246,"loss":0.28},{"frame":3249,"loss":0.251},{"frame":3252,"loss":0.223},{"frame":3255,"loss":0.108},{"frame":3258,"loss":0.122},{"frame":3260,"loss":0.007}
],
"avg":[
{"frame":26,"loss":0.052},{"frame":38,"loss":0.091},{"frame":55,"loss":0.133},{"frame":68,"loss":0.139},{"frame":80,"loss":0.127},{"frame":88,"loss":0.113},{"frame":101,"loss":0.115},{"frame":114,"loss":0.127},{"frame":122,"loss":0.136},{"frame":130,"loss":0.13},{"frame":139,"loss":0.145},{"frame":147,"loss":0.152},{"frame":155,"loss":0.133},{"frame":168,"loss":0.097},{"frame":180,"loss":0.073},{"frame":191,"loss":0.036},{"frame":199,"loss":0.021},{"frame":208,"loss":0.024},{"frame":214,"loss":0.073},{"frame":220,"loss":0.109},{"frame":226,"loss":0.137},{"frame":235,"loss":0.152},{"frame":243,"loss":0.23},{"frame":251,"loss":0.297},{"frame":260,"loss":0.345},{"frame":268,"loss":0.333},{"frame":276,"loss":0.339},{"frame":285,"loss":0.388},{"frame":291,"loss":0.394},{"frame":297,"loss":0.36},{"frame":308,"loss":0.412},{"frame":316,"loss":0.388},{"frame":327,"loss":0.376},{"frame":337,"loss":0.348},{"frame":348,"loss":0.339},{"frame":356,"loss":0.26},{"frame":364,"loss":0.224},{"frame":379,"loss":0.17},{"frame":389,"loss":0.109},{"frame":398,"loss":0.06},{"frame":406,"loss":0.028},{"frame":423,"loss":0.057},{"frame":435,"loss":0.057},{"frame":448,"loss":0.06},{"frame":458,"loss":0.075},{"frame":465,"loss":0.065},{"frame":471,"loss":0.055},{"frame":479,"loss":0.075},{"frame":492,"loss":0.091},{"frame":504,"loss":0.127},{"frame":517,"loss":0.152},{"frame":529,"loss":0.176},{"frame":542,"loss":0.285},{"frame":554,"loss":0.376},{"frame":567,"loss":0.455},{"frame":582,"loss":0.455},{"frame":592,"loss":0.357},{"frame":605,"loss":0.236},{"frame":612,"loss":0.182},{"frame":618,"loss":0.273},{"frame":625,"loss":0.372},{"frame":638,"loss":0.303},{"frame":650,"loss":0.315},{"frame":661,"loss":0.333},{"frame":669,"loss":0.188},{"frame":676,"loss":0.103},{"frame":688,"loss":0.164},{"frame":703,"loss":0.194},{"frame":715,"loss":0.158},{"frame":726,"loss":0.127},{"frame":734,"loss":0.103},{"frame":747,"loss":0.309},{"frame":759,"loss":0.527},{"frame":770,"loss":0.673},{"frame":778,"loss":0.794},{"frame":784,"loss":0.891},{"frame":793,"loss":0.933},{"frame":805,"loss":1.012},{"frame":818,"loss":1.109},{"frame":826,"loss":1.267},{"frame":836,"loss":1.321},{"frame":844,"loss":1.242},{"frame":851,"loss":1.06},{"frame":859,"loss":0.818},{"frame":868,"loss":0.697},{"frame":880,"loss":0.576},{"frame":887,"loss":0.539},{"frame":895,"loss":0.612},{"frame":903,"loss":0.818},{"frame":916,"loss":1.042},{"frame":924,"loss":1.006},{"frame":933,"loss":0.952},{"frame":941,"loss":0.867},{"frame":949,"loss":0.758},{"frame":958,"loss":0.588},{"frame":966,"loss":0.406},{"frame":972,"loss":0.376},{"frame":979,"loss":0.333},{"frame":987,"loss":0.352},{"frame":997,"loss":0.394},{"frame":1008,"loss":0.44},{"frame":1020,"loss":0.442},{"frame":1033,"loss":0.43},{"frame":1041,"loss":0.358},{"frame":1052,"loss":0.273},{"frame":1062,"loss":0.218},{"frame":1073,"loss":0.152},{"frame":1085,"loss":0.101},{"frame":1096,"loss":0.139},{"frame":1106,"loss":0.236},{"frame":1117,"loss":0.394},{"frame":1127,"loss":0.552},{"frame":1137,"loss":0.624},{"frame":1146,"loss":0.588},{"frame":1156,"loss":0.479},{"frame":1167,"loss":0.297},{"frame":1177,"loss":0.127},{"frame":1185,"loss":0.042},{"frame":1196,"loss":0.073},{"frame":1208,"loss":0.103},{"frame":1217,"loss":0.115},{"frame":1229,"loss":0.242},{"frame":1242,"loss":0.218},{"frame":1254,"loss":0.194},{"frame":1267,"loss":0.164},{"frame":1279,"loss":0.057},{"frame":1288,"loss":0.079},{"frame":1296,"loss":0.103},{"frame":1309,"loss":0.212},{"frame":1323,"loss":0.352},{"frame":1336,"loss":0.394},{"frame":1344,"loss":0.388},{"frame":1355,"loss":0.285},{"frame":1365,"loss":0.188},{"frame":1376,"loss":0.103},{"frame":1382,"loss":0.099},{"frame":1390,"loss":0.076},{"frame":1399,"loss":0.212},{"frame":1409,"loss":0.37},{"frame":1420,"loss":0.455},{"frame":1426,"loss":0.493},{"frame":1440,"loss":0.493},{"frame":1449,"loss":0.418},{"frame":1457,"loss":0.333},{"frame":1466,"loss":0.224},{"frame":1476,"loss":0.139},{"frame":1486,"loss":0.103},{"frame":1497,"loss":0.079},{"frame":1502,"loss":0.039},{"frame":1512,"loss":0.048},{"frame":1524,"loss":0.057},{"frame":1534,"loss":0.064},{"frame":1547,"loss":0.055},{"frame":1560,"loss":0.042},{"frame":1570,"loss":0.061},{"frame":1580,"loss":0.105},{"frame":1593,"loss":0.13},{"frame":1608,"loss":0.139},{"frame":1618,"loss":0.164},{"frame":1631,"loss":0.23},{"frame":1645,"loss":0.212},{"frame":1658,"loss":0.206},{"frame":1666,"loss":0.188},{"frame":1674,"loss":0.17},{"frame":1683,"loss":0.248},{"frame":1695,"loss":0.364},{"frame":1710,"loss":0.455},{"frame":1714,"loss":0.491},{"frame":1720,"loss":0.542},{"frame":1727,"loss":0.479},{"frame":1735,"loss":0.436},{"frame":1746,"loss":0.376},{"frame":1754,"loss":0.376},{"frame":1760,"loss":0.388},{"frame":1766,"loss":0.333},{"frame":1773,"loss":0.309},{"frame":1781,"loss":0.297},{"frame":1785,"loss":0.273},{"frame":1794,"loss":0.295},{"frame":1802,"loss":0.297},{"frame":1810,"loss":0.251},{"frame":1821,"loss":0.248},{"frame":1829,"loss":0.239},{"frame":1840,"loss":0.212},{"frame":1850,"loss":0.142},{"frame":1858,"loss":0.133},{"frame":1867,"loss":0.127},{"frame":1873,"loss":0.16},{"frame":1879,"loss":0.29},{"frame":1886,"loss":0.37},{"frame":1894,"loss":0.406},{"frame":1900,"loss":0.421},{"frame":1909,"loss":0.388},{"frame":1921,"loss":0.345},{"frame":1927,"loss":0.248},{"frame":1934,"loss":0.139},{"frame":1940,"loss":0.097},{"frame":1946,"loss":0.139},{"frame":1952,"loss":0.23},{"frame":1967,"loss":0.258},{"frame":1980,"loss":0.23},{"frame":1992,"loss":0.212},{"frame":2001,"loss":0.091},{"frame":2011,"loss":0.076},{"frame":2021,"loss":0.127},{"frame":2034,"loss":0.176},{"frame":2044,"loss":0.2},{"frame":2055,"loss":0.285},{"frame":2065,"loss":0.303},{"frame":2074,"loss":0.267},{"frame":2082,"loss":0.239},{"frame":2095,"loss":0.236},{"frame":2103,"loss":0.206},{"frame":2111,"loss":0.218},{"frame":2120,"loss":0.206},{"frame":2132,"loss":0.248},{"frame":2149,"loss":0.242},{"frame":2157,"loss":0.178},{"frame":2166,"loss":0.17},{"frame":2180,"loss":0.236},{"frame":2191,"loss":0.212},{"frame":2201,"loss":0.198},{"frame":2212,"loss":0.194},{"frame":2222,"loss":0.164},{"frame":2232,"loss":0.13},{"frame":2243,"loss":0.127},{"frame":2251,"loss":0.127},{"frame":2258,"loss":0.185},{"frame":2268,"loss":0.176},{"frame":2278,"loss":0.137},{"frame":2291,"loss":0.145},{"frame":2299,"loss":0.166},{"frame":2308,"loss":0.121},{"frame":2314,"loss":0.261},{"frame":2320,"loss":0.394},{"frame":2326,"loss":0.509},{"frame":2337,"loss":0.552},{"frame":2344,"loss":0.6},{"frame":2351,"loss":0.624},{"frame":2358,"loss":0.667},{"frame":2364,"loss":0.552},{"frame":2372,"loss":0.358},{"frame":2381,"loss":0.285},{"frame":2390,"loss":0.251},{"frame":2397,"loss":0.212},{"frame":2405,"loss":0.176},{"frame":2412,"loss":0.236},{"frame":2420,"loss":0.345},{"frame":2431,"loss":0.479},{"frame":2441,"loss":0.576},{"frame":2448,"loss":0.648},{"frame":2455,"loss":0.697},{"frame":2462,"loss":0.648},{"frame":2468,"loss":0.576},{"frame":2477,"loss":0.503},{"frame":2485,"loss":0.491},{"frame":2491,"loss":0.509},{"frame":2498,"loss":0.442},{"frame":2506,"loss":0.358},{"frame":2514,"loss":0.285},{"frame":2525,"loss":0.23},{"frame":2533,"loss":0.152},{"frame":2539,"loss":0.073},{"frame":2544,"loss":0.052},{"frame":2554,"loss":0.091},{"frame":2567,"loss":0.133},{"frame":2579,"loss":0.178},{"frame":2590,"loss":0.164},{"frame":2600,"loss":0.173},{"frame":2610,"loss":0.152},{"frame":2620,"loss":0.142},{"frame":2629,"loss":0.133},{"frame":2636,"loss":0.176},{"frame":2640,"loss":0.19},{"frame":2648,"loss":0.158},{"frame":2656,"loss":0.152},{"frame":2665,"loss":0.142},{"frame":2673,"loss":0.115},{"frame":2686,"loss":0.088},{"frame":2692,"loss":0.152},{"frame":2698,"loss":0.285},{"frame":2704,"loss":0.358},{"frame":2711,"loss":0.515},{"frame":2717,"loss":0.624},{"frame":2723,"loss":0.721},{"frame":2732,"loss":0.806},{"frame":2740,"loss":0.897},{"frame":2748,"loss":0.873},{"frame":2755,"loss":0.897},{"frame":2761,"loss":0.77},{"frame":2767,"loss":0.745},{"frame":2773,"loss":0.709},{"frame":2782,"loss":0.685},{"frame":2792,"loss":0.612},{"frame":2801,"loss":0.539},{"frame":2807,"loss":0.418},{"frame":2813,"loss":0.4},{"frame":2819,"loss":0.376},{"frame":2822,"loss":0.359},{"frame":2832,"loss":0.316},{"frame":2845,"loss":0.251},{"frame":2853,"loss":0.287},{"frame":2859,"loss":0.323},{"frame":2866,"loss":0.316},{"frame":2876,"loss":0.381},{"frame":2884,"loss":0.395},{"frame":2895,"loss":0.359},{"frame":2909,"loss":0.287},{"frame":2920,"loss":0.194},{"frame":2932,"loss":0.079},{"frame":2947,"loss":0.047},{"frame":2957,"loss":0.165},{"frame":2970,"loss":0.208},{"frame":2980,"loss":0.218},{"frame":2995,"loss":0.23},{"frame":3003,"loss":0.129},{"frame":3016,"loss":0.151},{"frame":3031,"loss":0.136},{"frame":3045,"loss":0.129},{"frame":3054,"loss":0.136},{"frame":3066,"loss":0.079},{"frame":3081,"loss":0.111},{"frame":3097,"loss":0.144},{"frame":3112,"loss":0.172},{"frame":3125,"loss":0.251},{"frame":3135,"loss":0.33},{"frame":3143,"loss":0.388},{"frame":3152,"loss":0.409},{"frame":3162,"loss":0.402},{"frame":3173,"loss":0.309},{"frame":3183,"loss":0.208},{"frame":3196,"loss":0.129},{"frame":3212,"loss":0.065},{"frame":3223,"loss":0.093},{"frame":3233,"loss":0.119},{"frame":3244,"loss":0.108},{"frame":3254,"loss":0.098},{"frame":3264,"loss":0.086}
]
},
"encoding":{
 "x":{"field":"frame","type":"quantitative","scale":{"domain":[1,3285],"nice":false,"zero":false},"axis":{"title":"Frame","values":[500,1000,1500,2000,2500,3000],"format":"d","grid":false,"labelPadding":9,"titlePadding":13,"labelFlush":false}},
 "y":{"field":"loss","type":"quantitative","scale":{"domain":[0,2.333],"nice":false,"zero":false},"axis":{"title":"MSE Loss (logit-space)","values":[0,0.5,1,1.5,2],"format":".1f","grid":true,"labelPadding":11,"titlePadding":16}}
},
"layer":[
 {"data":{"name":"raw"},"mark":{"type":"area","color":"#F92672","opacity":0.3,"clip":true}},
 {"data":{"name":"raw"},"mark":{"type":"line","color":"#F92672","strokeWidth":1.3,"opacity":0.9,"clip":true}},
 {"data":{"name":"avg"},"mark":{"type":"line","strokeWidth":5,"strokeCap":"round","strokeJoin":"round","clip":true},
  "encoding":{"color":{"datum":"50-frame rolling avg","type":"nominal","scale":{"range":["#A6E22E"]},
   "legend":{"title":null,"orient":"top-right","offset":13,"symbolType":"M-1,0H3","symbolSize":1156,"symbolStrokeWidth":5.5,"symbolStrokeColor":"#A6E22E","symbolFillColor":"transparent","labelFontSize":30,"labelLimit":800,"labelColor":"#F8F8F2","labelFont":"DejaVu Sans Mono","fillColor":"#272822","strokeColor":"#5B5A52","cornerRadius":5,"padding":10,"labelOffset":56}}}}
]
}
